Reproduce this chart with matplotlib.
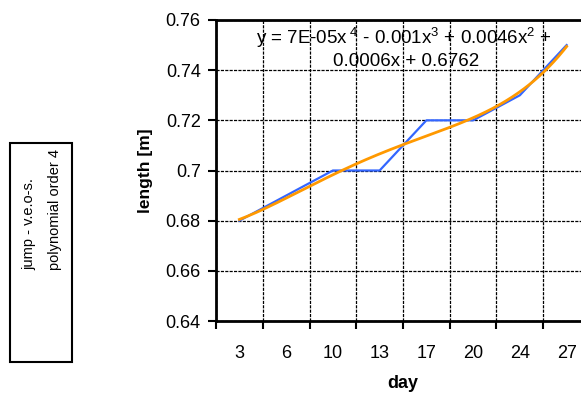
import numpy as np
import matplotlib.pyplot as plt
from matplotlib.patches import Rectangle

plt.rcParams['font.family'] = ['Liberation Sans', 'DejaVu Sans']
plt.rcParams['mathtext.fontset'] = 'custom'
plt.rcParams['mathtext.rm'] = 'Liberation Sans'
plt.rcParams['mathtext.it'] = 'Liberation Sans'

# measured data (one point per category)
days = ['3', '6', '10', '13', '17', '20', '24', '27']
length = [0.68, 0.69, 0.70, 0.70, 0.72, 0.72, 0.73, 0.75]
yticks = [0.64, 0.66, 0.68, 0.7, 0.72, 0.74, 0.76]
ytick_labels = ['0.64', '0.66', '0.68', '0.7', '0.72', '0.74', '0.76']

idx = np.arange(1, len(days) + 1)
# 4th order trendline like the spreadsheet does it
coef = np.polyfit(idx, length, 4)
xs = np.linspace(idx[0], idx[-1], 200)
ys = np.polyval(coef, xs)

fig = plt.figure(figsize=(5.81, 3.95), dpi=100)
ax = fig.add_axes([216/581, 1 - 321/395, 374/581, 301/395])

ax.plot(idx, length, color='#3366ff', lw=1.6, zorder=3)
ax.plot(xs, ys, color='#ff9900', lw=2.0, zorder=4)

ax.set_xlim(0.5, len(days) + 0.5)
ax.set_ylim(0.64, 0.76)

# category boundaries as major ticks, labels in between
ax.set_xticks(np.arange(0.5, len(days) + 1, 1.0))
ax.set_xticklabels([])
ax.set_xticks(idx, minor=True)
ax.set_xticklabels(days, minor=True)
ax.tick_params(axis='x', which='minor', length=0, pad=17, labelsize=13)
ax.tick_params(axis='x', which='major', length=6, width=1.5, direction='out')
ax.set_yticks(yticks)
ax.set_yticklabels(ytick_labels)
ax.tick_params(axis='y', length=6, width=1.5, direction='out', labelsize=13, pad=5)

ax.grid(True, which='major', color='black', linestyle=(0, (2.5, 1)), linewidth=0.9)
ax.set_axisbelow(True)
for s in ['left', 'bottom', 'top', 'right']:
    ax.spines[s].set_linewidth(2)

ax.set_xlabel('day', fontsize=13, fontweight='bold', labelpad=10)
ax.set_ylabel('length [m]', fontsize=12.5, fontweight='bold', labelpad=9)

eq1 = r'y = 7E-05x$^{\ 4}$ - 0.001x$^{3}$ + 0.0046x$^{2}$ +'
eq2 = '0.0006x + 0.6762'
fig.text(404/581, 1 - 38/395, eq1, fontsize=13.5, ha='center', va='center')
fig.text(406/581, 1 - 61/395, eq2, fontsize=13.5, ha='center', va='center')

# legend-ish box on the left
fig.patches.append(Rectangle((10/581, 1 - 362/395), 62/581, 219/395,
                             transform=fig.transFigure, fill=False,
                             edgecolor='black', linewidth=1.5))
fig.text(42/581, 1 - 270/395, 'jump - v.e.o-s.\npolynomial order 4', rotation=90,
         fontsize=10.5, ha='center', va='bottom', multialignment='left',
         linespacing=2.1)

fig.savefig('out.png', dpi=100)
